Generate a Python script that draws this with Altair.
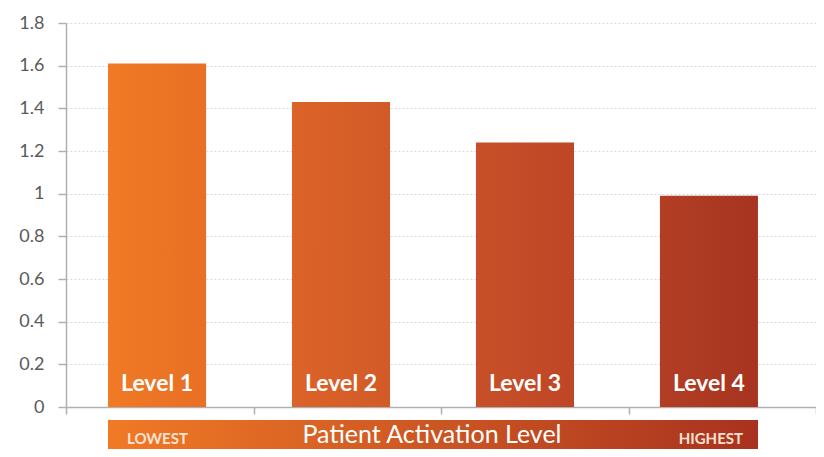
import altair as alt
import pandas as pd

levels = ["Level 1", "Level 2", "Level 3", "Level 4"]
values = [1.61, 1.43, 1.24, 0.99]
left_colors = ["#F07A25", "#DC6429", "#C85028", "#B23E24"]
right_colors = ["#E86F24", "#D25A27", "#BE4626", "#A63420"]
y_ticks = [0, 0.2, 0.4, 0.6, 0.8, 1, 1.2, 1.4, 1.6, 1.8]
banner_texts = ["LOWEST", "Patient Activation Level", "HIGHEST"]
banner_colors = ["#F07A25", "#A8321F"]

df = pd.DataFrame({"level": levels, "value": values})

W, H = 750, 384
FONT = "Lato"

bar_scale = alt.Scale(domain=levels, paddingInner=0.467, paddingOuter=0.272, align=0.42)
y_scale = alt.Scale(domain=[0, 1.8], nice=False, zero=True)
y_axis = alt.Axis(
    values=y_ticks, format="~g", title=None,
    labelFont=FONT, labelFontSize=18, labelColor="#5a5a5a", labelPadding=14,
    tickSize=8, tickColor="#b0b0b0", tickWidth=1.5,
    domainColor="#b0b0b0", domainWidth=1.5,
    grid=True, gridColor="#d8d8d8", gridDash=[2, 2], gridWidth=1,
)

bars = []
for i, lv in enumerate(levels):
    grad = alt.LinearGradient(
        gradient="linear",
        stops=[alt.GradientStop(color=left_colors[i], offset=0),
               alt.GradientStop(color=right_colors[i], offset=1)],
        x1=0, x2=1, y1=0, y2=0,
    )
    b = alt.Chart(df).transform_filter(alt.datum.level == lv).mark_bar(color=grad).encode(
        x=alt.X("level:N", scale=bar_scale, axis=None, sort=levels),
        y=alt.Y("value:Q", scale=y_scale, axis=y_axis),
    )
    bars.append(b)

labels = alt.Chart(df).mark_text(
    font=FONT, fontSize=23, fontWeight="bold", color="white", baseline="alphabetic", dy=-16
).encode(
    x=alt.X("level:N", scale=bar_scale, axis=None, sort=levels),
    y=alt.Y(datum=0, scale=y_scale, axis=y_axis),
    text="level:N",
)

bars_layer = alt.layer(*bars, labels)

axis_layer = alt.Chart(df).mark_point(opacity=0).encode(
    x=alt.X("level:N", sort=levels,
            scale=alt.Scale(domain=levels, paddingInner=0, paddingOuter=0),
            axis=alt.Axis(labels=False, title=None, tickBand="extent", tickSize=7,
                          tickColor="#b0b0b0", tickWidth=1.5, domainColor="#b0b0b0",
                          domainWidth=1.5, grid=False, orient="bottom")),
    y=alt.Y(datum=0, scale=y_scale, axis=y_axis),
)

banner_df = pd.DataFrame({"t": banner_texts})
bgrad = alt.LinearGradient(
    gradient="linear",
    stops=[alt.GradientStop(color=banner_colors[0], offset=0),
           alt.GradientStop(color=banner_colors[1], offset=1)],
    x1=0, x2=1, y1=0, y2=0,
)
banner = alt.Chart(banner_df).transform_filter(alt.datum.t == banner_texts[1]).mark_rect(color=bgrad).encode(
    x=alt.value(42), x2=alt.value(692), y=alt.value(397), y2=alt.value(445),
)
t_low = alt.Chart(banner_df).transform_filter(alt.datum.t == banner_texts[0]).mark_text(
    font=FONT, fontSize=15, fontWeight="bold", color="#fbe3d3", align="left", baseline="alphabetic"
).encode(x=alt.value(61), y=alt.value(421), text="t:N")
t_mid = alt.Chart(banner_df).transform_filter(alt.datum.t == banner_texts[1]).mark_text(
    font=FONT, fontSize=25, color="white", align="center", baseline="alphabetic"
).encode(x=alt.value(366), y=alt.value(420), text="t:N")
t_high = alt.Chart(banner_df).transform_filter(alt.datum.t == banner_texts[2]).mark_text(
    font=FONT, fontSize=15, fontWeight="bold", color="#fbe3d3", align="right", baseline="alphabetic"
).encode(x=alt.value(677), y=alt.value(421), text="t:N")

chart = alt.layer(bars_layer, axis_layer, banner, t_low, t_mid, t_high).resolve_scale(
    x="independent"
).properties(
    width=W, height=H,
    autosize=alt.AutoSizeParams(type="none"),
    padding={"left": 58, "top": 15, "right": 0, "bottom": 42},
).configure_view(stroke=None)

chart.save("out.html", embed_options={"renderer": "svg", "actions": False})
